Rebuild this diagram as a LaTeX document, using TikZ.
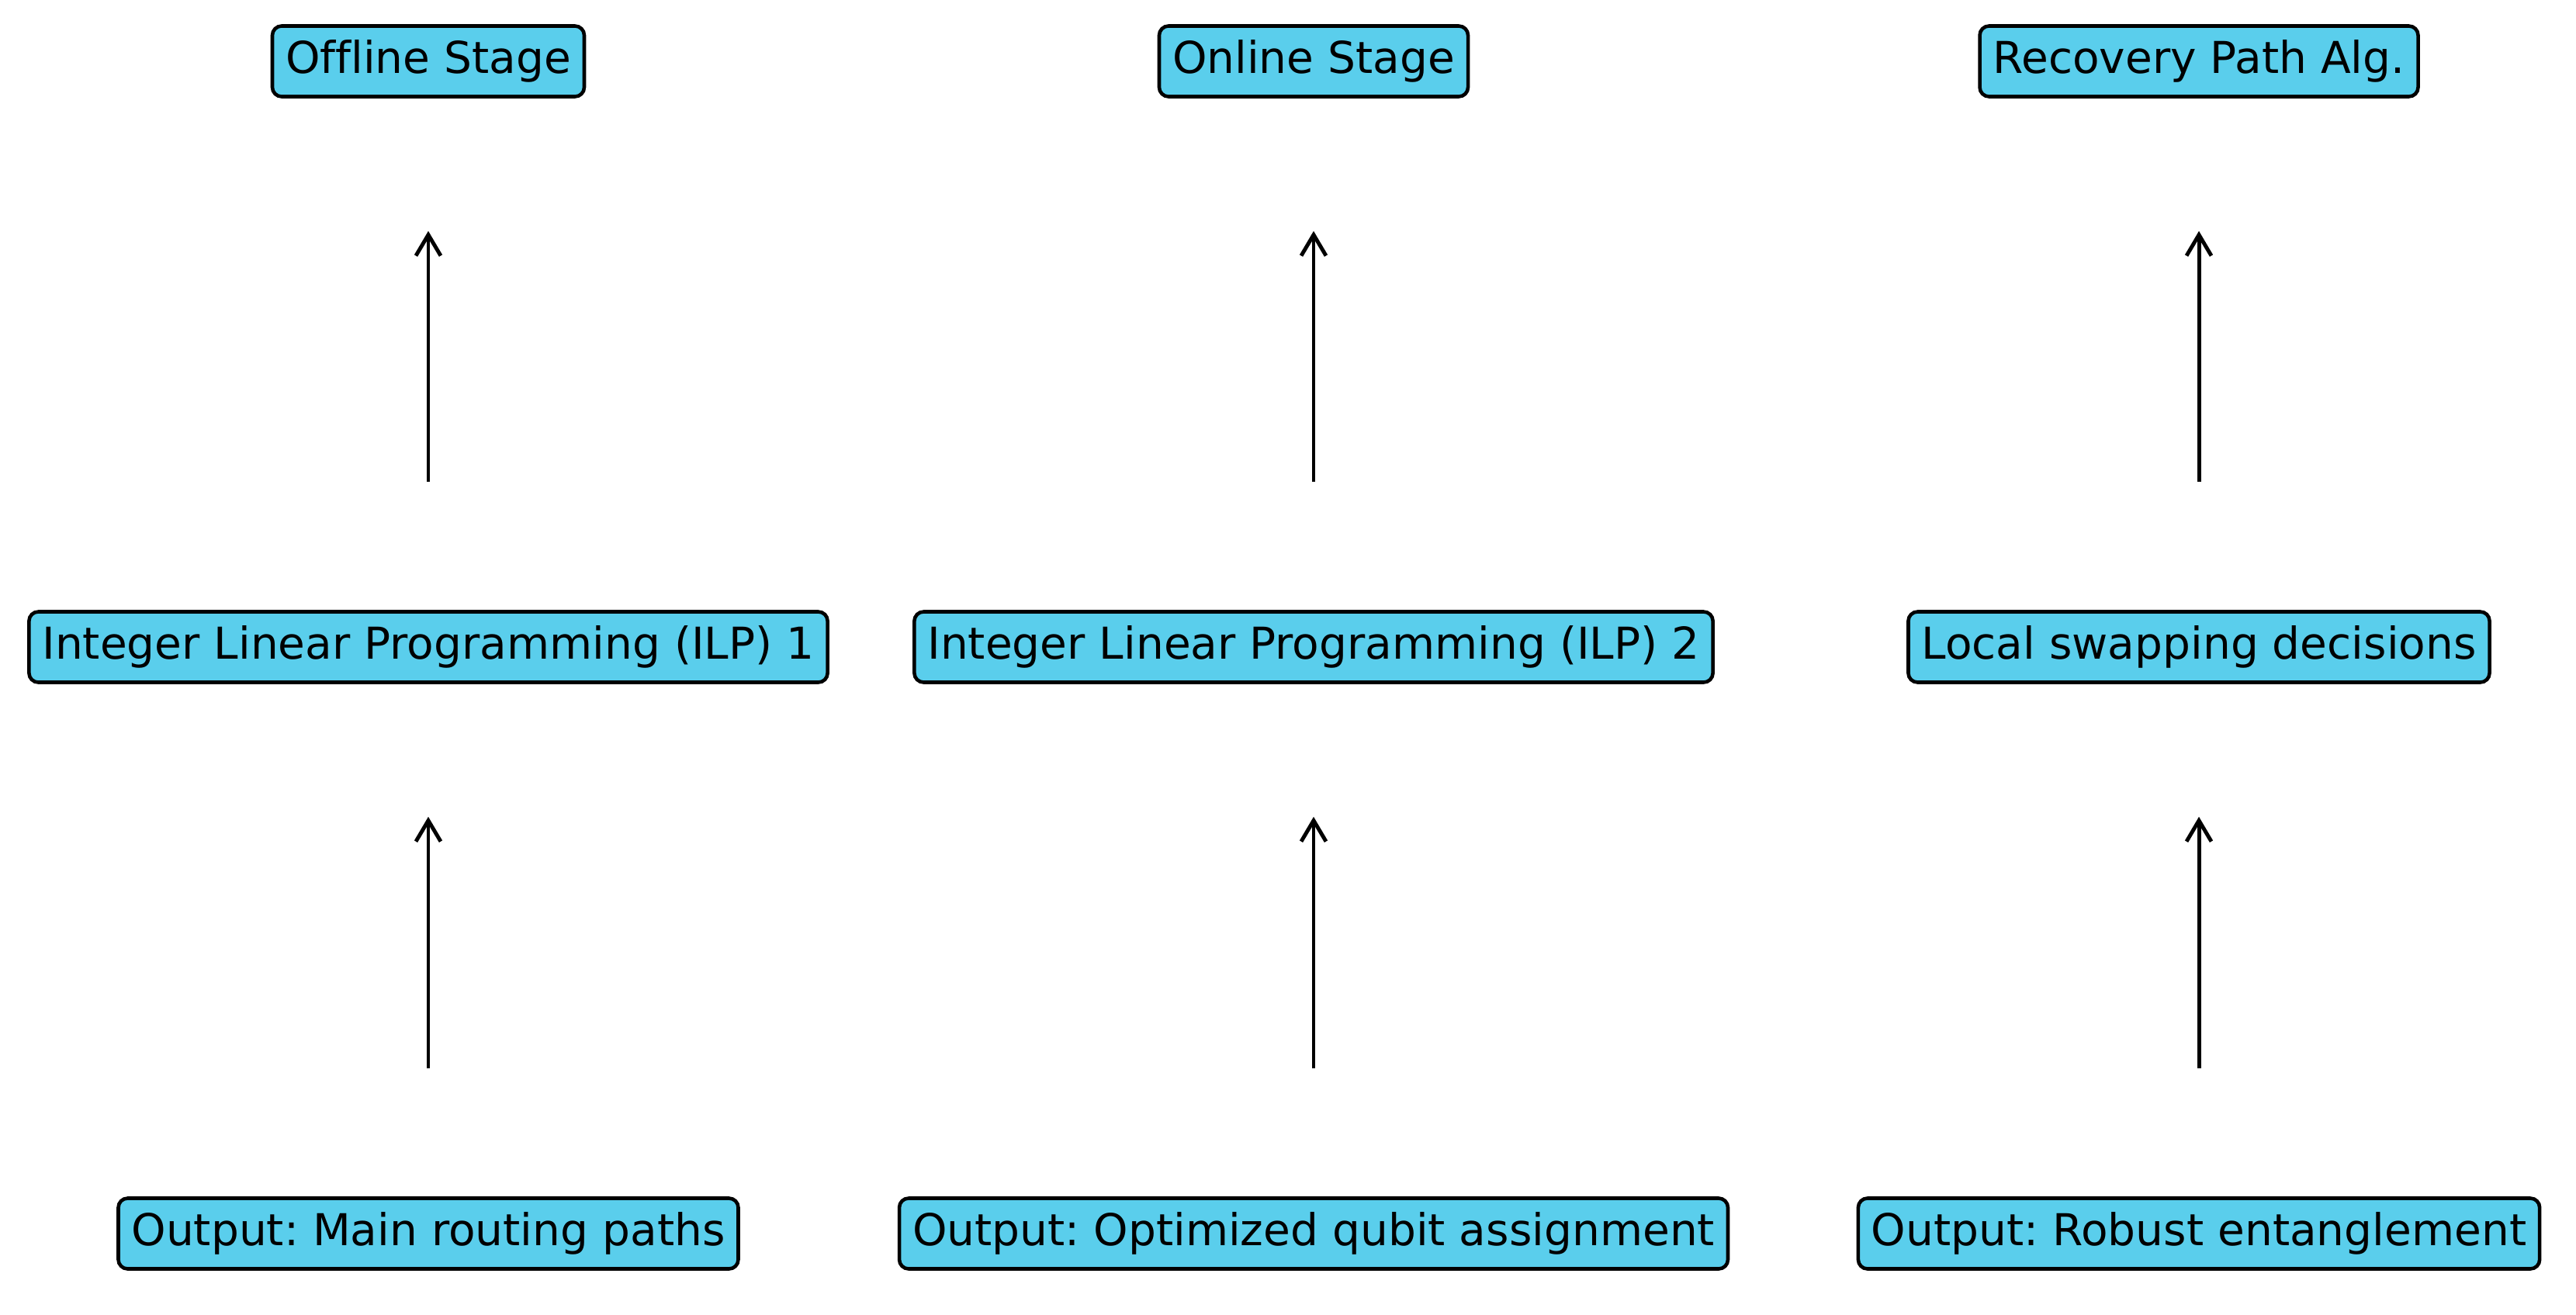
\documentclass[tikz,border=0pt]{standalone}
\usepackage{fontspec}
\setmainfont{DejaVu Sans}[Ligatures=CommonOff]
\usetikzlibrary{arrows.meta}
\definecolor{stageblue}{RGB}{90,206,236}
\frenchspacing

\begin{document}
\begin{tikzpicture}[x=1cm,y=1cm,font=\fontsize{16.1pt}{19pt}\selectfont,
      >={Straight Barb[length=.27cm,width=.32cm,line width=1.4pt]},
      stagebox/.style={draw=black,fill=stageblue,rounded corners=.12cm,
        line width=1.3pt,minimum height=.91cm,inner xsep=.17cm,inner ysep=0pt},
      flow/.style={->,line width=1.4pt,shorten <=1.65cm,shorten >=1.71cm}]
      \useasboundingbox (0,0) rectangle (33.2,-16.94);
      % top row
      \node[stagebox] (offline) at (5.52,-.79) {Offline Stage};
      \node[stagebox] (online) at (16.93,-.79) {Online Stage};
      \node[stagebox] (recovery) at (28.34,-.79) {Recovery Path Alg.};
      % middle row
      \node[stagebox] (ilpone) at (5.52,-8.34) {Integer Linear Programming (ILP) 1};
      \node[stagebox] (ilptwo) at (16.93,-8.34) {Integer Linear Programming (ILP) 2};
      \node[stagebox] (swapping) at (28.34,-8.34) {Local swapping decisions};
      % bottom row
      \node[stagebox] (outmain) at (5.52,-15.90) {Output: Main routing paths};
      \node[stagebox] (outqubit) at (16.93,-15.90) {Output: Optimized qubit assignment};
      \node[stagebox] (outrobust) at (28.34,-15.90) {Output: Robust entanglement};
      % arrows
      \draw[flow] (ilpone) -- (offline);
      \draw[flow] (ilptwo) -- (online);
      \draw[flow] (swapping) -- (recovery);
      \draw[flow] (outmain) -- (ilpone);
      \draw[flow] (outqubit) -- (ilptwo);
      \draw[flow] (outrobust) -- (swapping);
    \end{tikzpicture}
\end{document}
